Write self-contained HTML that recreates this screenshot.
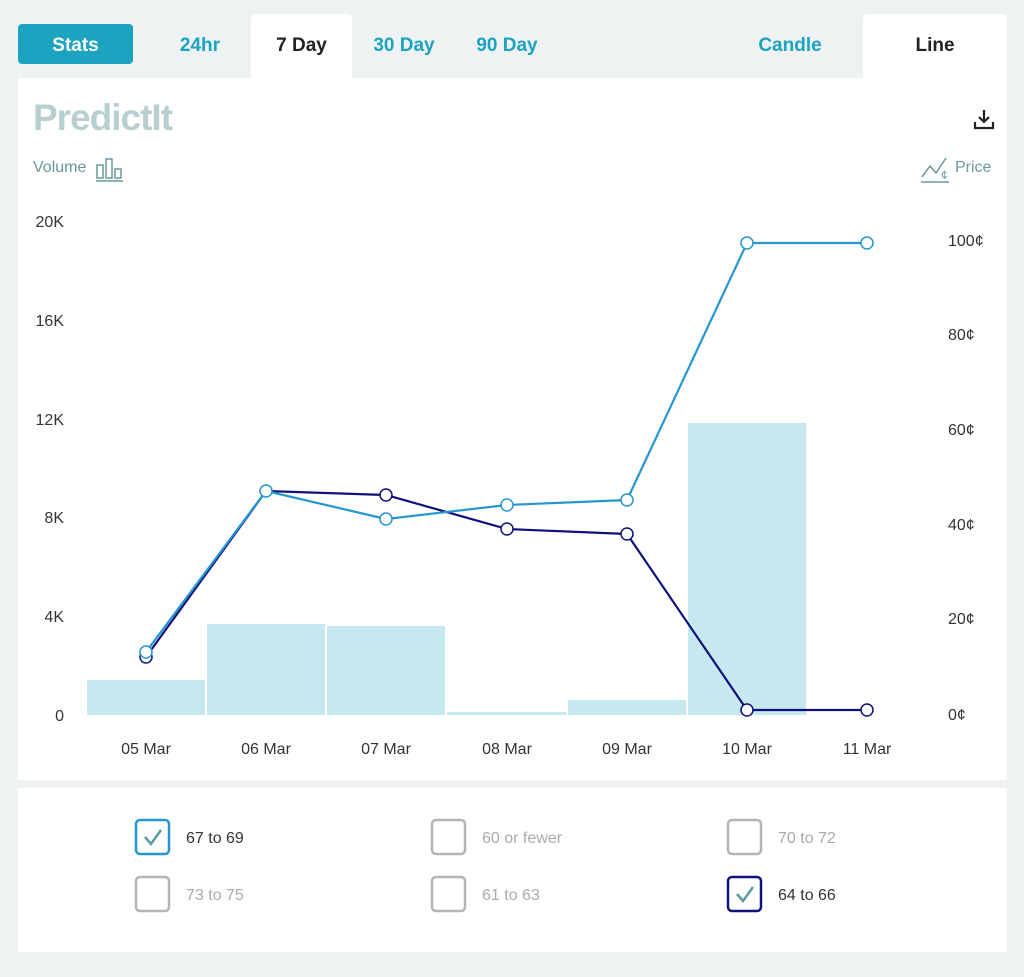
<!DOCTYPE html>
<html><head><meta charset="utf-8"><style>
body{margin:0;width:1024px;height:977px;background:#eef2f3;font-family:"Liberation Sans",sans-serif;position:relative;overflow:hidden}
.abs{position:absolute}
.tab{position:absolute;top:14px;height:64px;line-height:64px;font-size:19px;font-weight:bold;color:#1ba3c0;text-align:center}
</style></head><body>
<div class="abs" style="left:18px;top:24px;width:115px;height:40px;background:#1ba3c0;border-radius:4px;color:#fff;font-weight:bold;font-size:19px;line-height:43px;text-align:center">Stats</div>
<div class="tab" style="left:160px;width:80px">24hr</div>
<div class="tab" style="left:251px;width:101px;background:#fff;color:#222;border-radius:4px 4px 0 0">7 Day</div>
<div class="tab" style="left:362px;width:84px">30 Day</div>
<div class="tab" style="left:466px;width:82px">90 Day</div>
<div class="tab" style="left:740px;width:100px">Candle</div>
<div class="tab" style="left:863px;width:144px;background:#fff;color:#222;border-radius:4px 4px 0 0">Line</div>
<div class="abs" style="left:18px;top:78px;width:989px;height:702px;background:#fff"></div>
<div class="abs" style="left:18px;top:788px;width:989px;height:164px;background:#fff"></div>
<div class="abs" style="left:33px;top:97px;font-size:37px;font-weight:bold;color:#b9cfcf;letter-spacing:-1px">PredictIt</div>
<div class="abs" style="left:33px;top:159px;font-size:16px;color:#6a9a9a">Volume</div>
<svg class="abs" style="left:95px;top:157px" width="30" height="26"><g fill="none" stroke="#6a9a9a" stroke-width="1.5"><rect x="2" y="8" width="6" height="13"/><rect x="11" y="2" width="6" height="19"/><rect x="20" y="12" width="6" height="9"/><line x1="1" y1="24" x2="28" y2="24"/></g></svg>
<svg class="abs" style="left:919px;top:155px" width="34" height="30"><g fill="none" stroke="#6a9a9a" stroke-width="1.5"><polyline points="3,22 11,11 17,18 27,3"/><line x1="2" y1="27" x2="30" y2="27"/></g><text x="22" y="24" font-size="12" fill="#6a9a9a">¢</text></svg>
<div class="abs" style="left:955px;top:159px;font-size:16px;color:#6a9a9a">Price</div>
<svg class="abs" style="left:972px;top:108px" width="26" height="24"><g stroke="#222" stroke-width="2.2" fill="none"><line x1="12" y1="2" x2="12" y2="14"/><polyline points="7,9 12,14 17,9"/><polyline points="3,14 3,20 21,20 21,14"/></g></svg>
<svg class="abs" style="left:0;top:0" width="1024" height="977">
<g font-family="Liberation Sans,sans-serif" font-size="16" fill="#333">
<text x="64" y="227" text-anchor="end">20K</text><text x="64" y="326" text-anchor="end">16K</text><text x="64" y="425" text-anchor="end">12K</text><text x="64" y="523" text-anchor="end">8K</text><text x="64" y="622" text-anchor="end">4K</text><text x="64" y="721" text-anchor="end">0</text>
<text x="948" y="246">100¢</text><text x="948" y="340">80¢</text><text x="948" y="435">60¢</text><text x="948" y="530">40¢</text><text x="948" y="624">20¢</text><text x="948" y="720">0¢</text>
<g text-anchor="middle"><text x="146" y="754">05 Mar</text><text x="266" y="754">06 Mar</text><text x="386" y="754">07 Mar</text><text x="507" y="754">08 Mar</text><text x="627" y="754">09 Mar</text><text x="747" y="754">10 Mar</text><text x="867" y="754">11 Mar</text></g>
</g>
<g fill="#c5e9ef">
<rect x="87" y="680" width="118" height="35"/><rect x="207" y="624" width="118" height="91"/><rect x="327" y="626" width="118" height="89"/><rect x="447" y="712" width="119" height="3"/><rect x="568" y="700" width="118" height="15"/><rect x="688" y="423" width="118" height="292"/>
</g>
<polyline fill="none" stroke="#10107a" stroke-width="2.2" points="146,657 266,491 386,495 507,529 627,534 747,710 867,710"/>
<polyline fill="none" stroke="#2596d0" stroke-width="2.2" points="146,652 266,491 386,519 507,505 627,500 747,243 867,243"/>
<g fill="#fff" stroke="#10107a" stroke-width="1.5"><circle cx="146" cy="657" r="6"/><circle cx="386" cy="495" r="6"/><circle cx="507" cy="529" r="6"/><circle cx="627" cy="534" r="6"/><circle cx="747" cy="710" r="6"/><circle cx="867" cy="710" r="6"/></g>
<g fill="#fff" stroke="#2596d0" stroke-width="1.5"><circle cx="146" cy="652" r="6"/><circle cx="266" cy="491" r="6"/><circle cx="386" cy="519" r="6"/><circle cx="507" cy="505" r="6"/><circle cx="627" cy="500" r="6"/><circle cx="747" cy="243" r="6"/><circle cx="867" cy="243" r="6"/></g>
<g fill="none" stroke-width="2.5">
<rect x="136" y="820" width="33" height="34" rx="4" stroke="#2596d0"/>
<rect x="432" y="820" width="33" height="34" rx="4" stroke="#b5b5b5"/>
<rect x="728" y="820" width="33" height="34" rx="4" stroke="#b5b5b5"/>
<rect x="136" y="877" width="33" height="34" rx="4" stroke="#b5b5b5"/>
<rect x="432" y="877" width="33" height="34" rx="4" stroke="#b5b5b5"/>
<rect x="728" y="877" width="33" height="34" rx="4" stroke="#10107a"/>
<polyline points="145,837 151,844 161,830" stroke="#5a9a9a" stroke-width="2.5"/>
<polyline points="737,894 743,901 753,887" stroke="#5a9a9a" stroke-width="2.5"/>
</g>
<g font-family="Liberation Sans,sans-serif" font-size="16">
<text x="186" y="843" fill="#333">67 to 69</text><text x="482" y="843" fill="#aaa">60 or fewer</text><text x="778" y="843" fill="#aaa">70 to 72</text>
<text x="186" y="900" fill="#aaa">73 to 75</text><text x="482" y="900" fill="#aaa">61 to 63</text><text x="778" y="900" fill="#333">64 to 66</text>
</g>
</svg>
</body></html>
